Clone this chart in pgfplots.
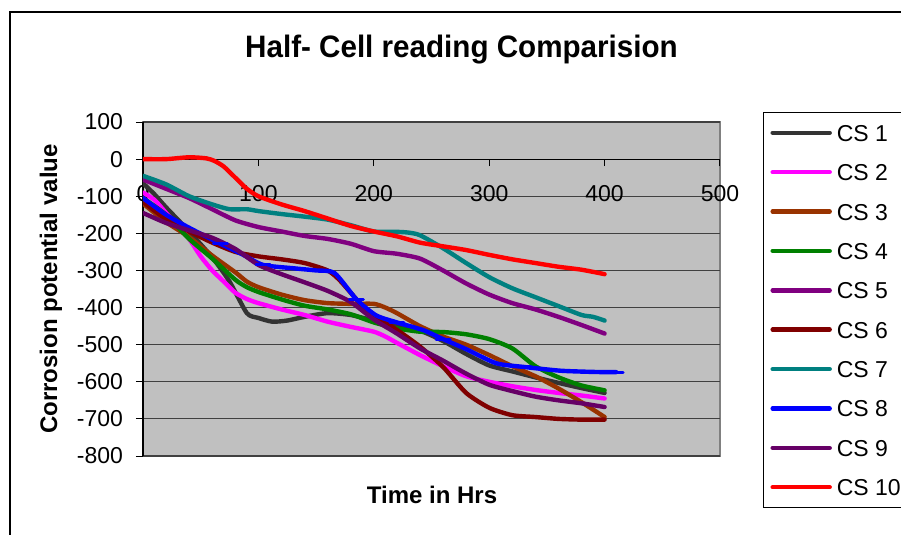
\documentclass[border=0pt]{standalone}
\usepackage{fontspec}
\setmainfont{Liberation Sans}
\usepackage{pgfplots}
\pgfplotsset{compat=1.18}
\definecolor{csA}{HTML}{333333}
\definecolor{csB}{HTML}{FF00FF}
\definecolor{csC}{HTML}{993300}
\definecolor{csD}{HTML}{008000}
\definecolor{csE}{HTML}{800080}
\definecolor{csF}{HTML}{800000}
\definecolor{csG}{HTML}{008080}
\definecolor{csH}{HTML}{0000FF}
\definecolor{csI}{HTML}{660066}
\definecolor{csJ}{HTML}{FF0000}
\definecolor{plotbg}{HTML}{C0C0C0}
\begin{document}
\begin{tikzpicture}
\path[use as bounding box] (0pt,0pt) rectangle (450.5pt,-267.5pt);
\draw[black, line width=0.8pt] (5pt,-280pt) -- (5pt,-6pt) -- (470pt,-6pt);
\begin{axis}[
  at={(71.5pt,-228pt)}, anchor=south west,
  width=288.5pt, height=167pt, scale only axis,
  xmin=0, xmax=500, ymin=-800, ymax=100,
  axis x line=middle, axis y line=left,
  axis line style={-, black, line width=0.6pt},
  every inner x axis line/.append style={-},
  every outer y axis line/.append style={-},
  axis background/.style={fill=plotbg, draw=black!50, line width=0.8pt},
  hide obscured x ticks=false, hide obscured y ticks=false,
  xtick={0,100,...,500}, ytick={-800,-700,...,100},
  tick align=outside, major tick length=3.5pt,
  tick style={black, line width=0.5pt},
  ymajorgrids=true,
  grid style={black!75, line width=0.6pt},
  /pgf/number format/assume math mode=true,
  ticklabel style={font=\fontsize{11.5}{13}\selectfont},
  xticklabel style={anchor=north, yshift=-6pt},
  yticklabel style={anchor=east, xshift=-3pt},
  every axis plot/.append style={line width=2.2pt, line join=round, line cap=round, smooth, tension=0.4},
  legend image code/.code={\draw[mark repeat=2,mark phase=2,#1] plot coordinates {(0pt,0pt) (14.25pt,0pt) (28.5pt,0pt)};},
  legend style={at={(1.0745,1.030)}, anchor=north west, draw=black, line width=0.5pt, fill=white,
    inner xsep=3.5pt, inner ysep=5.85pt, row sep=11.2pt, column sep=2.5pt,
    font=\fontsize{11.5}{13}\selectfont,
    nodes={inner sep=0pt, text height=8.5pt, text depth=0pt}},
  legend cell align=left,
]
\addplot[csA] coordinates {(0,-65)(10,-95)(20,-130)(40,-195)(60,-265)(75,-330)(90,-415)(100,-428)(112,-438)(125,-435)(140,-425)(160,-415)(180,-420)(200,-435)(220,-447)(240,-462)(260,-490)(280,-525)(300,-556)(320,-572)(340,-588)(360,-603)(380,-617)(400,-630)};
\addlegendentry{CS 1}
\addplot[csB] coordinates {(0,-90)(10,-110)(20,-145)(30,-180)(40,-215)(50,-262)(60,-300)(70,-330)(80,-360)(90,-377)(100,-388)(120,-405)(140,-420)(160,-438)(180,-452)(200,-465)(210,-478)(220,-495)(240,-528)(260,-558)(280,-585)(300,-600)(320,-612)(340,-622)(360,-630)(380,-637)(400,-645)};
\addlegendentry{CS 2}
\addplot[csC] coordinates {(0,-120)(10,-145)(20,-170)(40,-210)(60,-260)(80,-305)(90,-330)(100,-345)(120,-365)(140,-380)(160,-388)(180,-390)(200,-390)(210,-400)(220,-415)(240,-450)(260,-478)(280,-500)(300,-528)(320,-558)(340,-585)(360,-618)(380,-655)(400,-695)};
\addlegendentry{CS 3}
\addplot[csD] coordinates {(0,-105)(20,-150)(40,-215)(60,-268)(80,-325)(90,-345)(100,-358)(120,-378)(140,-395)(160,-405)(180,-418)(200,-440)(220,-456)(240,-465)(260,-466)(280,-472)(300,-485)(320,-510)(340,-558)(360,-588)(380,-610)(400,-623)};
\addlegendentry{CS 4}
\addplot[csE] coordinates {(0,-55)(20,-80)(40,-105)(60,-135)(80,-165)(100,-183)(120,-195)(140,-207)(160,-215)(180,-228)(200,-248)(220,-255)(240,-268)(260,-300)(280,-335)(300,-365)(320,-388)(340,-405)(360,-425)(380,-447)(400,-470)};
\addlegendentry{CS 5}
\addplot[csF] coordinates {(0,-115)(20,-162)(40,-195)(60,-225)(80,-250)(100,-262)(120,-270)(140,-280)(160,-300)(170,-325)(180,-360)(190,-395)(200,-420)(220,-460)(240,-505)(260,-560)(280,-630)(300,-670)(320,-690)(340,-695)(360,-700)(380,-702)(400,-702)};
\addlegendentry{CS 6}
\addplot[csG] coordinates {(0,-45)(20,-68)(40,-100)(60,-122)(75,-135)(90,-135)(100,-140)(120,-148)(140,-155)(160,-163)(180,-178)(200,-195)(220,-196)(230,-198)(240,-205)(260,-240)(280,-280)(300,-318)(320,-348)(340,-372)(360,-396)(380,-420)(390,-425)(400,-435)};
\addlegendentry{CS 7}
\addplot[csH, mark=-, mark size=3.5pt, mark options={line width=1.5pt, solid}, mark indices={4,6,10,12,14,17,19,21}] coordinates {(0,-105)(20,-150)(40,-185)(67,-228)(85,-255)(104,-285)(130,-294)(150,-300)(166,-307)(185,-378)(202,-421)(220,-440)(243,-461)(260,-485)(280,-512)(306,-550)(330,-560)(361,-570)(385,-573)(400,-574)(410,-574)};
\addlegendentry{CS 8}
\addplot[csI] coordinates {(0,-145)(20,-172)(40,-192)(60,-212)(80,-242)(100,-285)(120,-310)(140,-332)(160,-355)(180,-385)(200,-432)(220,-470)(240,-510)(260,-543)(280,-578)(300,-608)(320,-625)(340,-640)(360,-650)(380,-658)(400,-668)};
\addlegendentry{CS 9}
\addplot[csJ] coordinates {(0,0)(20,0)(40,5)(55,2)(62,-5)(70,-20)(80,-50)(90,-80)(100,-100)(120,-122)(140,-140)(160,-160)(180,-180)(200,-195)(220,-208)(240,-225)(260,-235)(280,-245)(300,-258)(320,-270)(340,-280)(360,-290)(380,-298)(400,-310)};
\addlegendentry{CS 10}
\end{axis}
\node[xscale=0.955, font=\bfseries\fontsize{15.5}{18}\selectfont] at (230.75pt,-25pt) {Half- Cell reading Comparision};
\node[rotate=90, font=\bfseries\fontsize{12}{14}\selectfont] at (25.5pt,-144.5pt) {Corrosion potential value};
\node[font=\bfseries\fontsize{12}{14}\selectfont] at (216pt,-247.5pt) {Time in Hrs};
\end{tikzpicture}
\end{document}
